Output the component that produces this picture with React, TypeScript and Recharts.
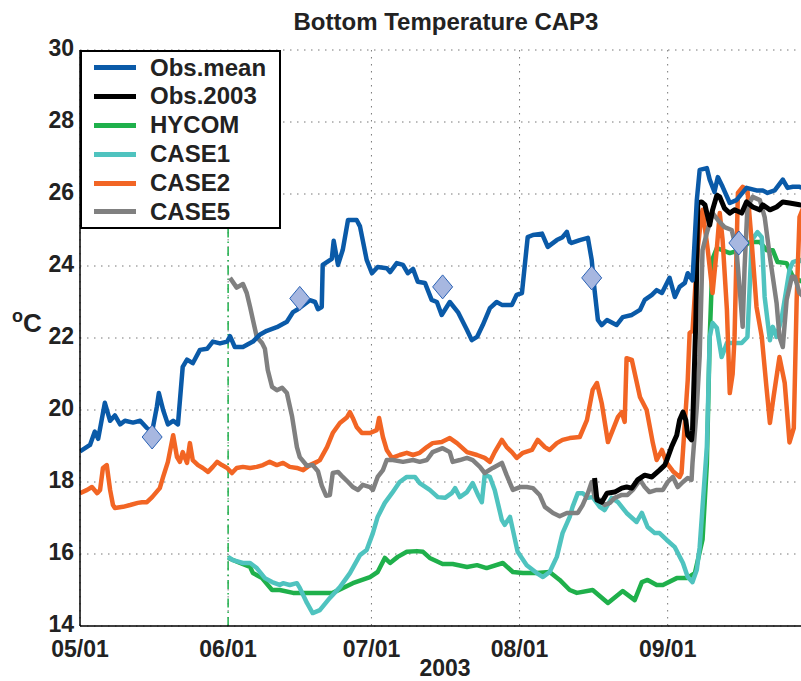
import React from 'react';
import { ComposedChart, Line, XAxis, YAxis, CartesianGrid, ReferenceLine, Legend } from 'recharts';

// x = days since 05/01/2003
const xTicks = [0, 31, 61, 92, 123];
const xTickLabels = ['05/01', '06/01', '07/01', '08/01', '09/01'];
const yTicks = [14, 16, 18, 20, 22, 24, 26, 28, 30];

const obsMean: [number, number][] = [
  [0, 18.85], [2.1, 19.03], [3.1, 19.4], [3.8, 19.2], [5.2, 20.2], [6.3, 19.7], [7.3, 19.85], [8.4, 19.6],
  [9.4, 19.7], [11.1, 19.65], [12.6, 19.7], [14.0, 19.5], [15.1, 19.4], [16.1, 20.1], [16.5, 20.47], [17.4, 20.0],
  [18.4, 19.6], [19.5, 19.7], [20.5, 19.6], [21.5, 21.2], [22.4, 21.4], [23.6, 21.3], [25.1, 21.67], [26.6, 21.7],
  [27.8, 21.9], [29.3, 21.85], [30.8, 21.9], [31.4, 22.05], [32.4, 21.75], [34.1, 21.75], [36.2, 21.9], [37.7, 22.1],
  [39.1, 22.2], [41.2, 22.3], [43.3, 22.45], [44.6, 22.72], [45.6, 22.8], [48.1, 23.05], [49.2, 23.0], [49.8, 22.8],
  [50.6, 22.86], [50.8, 24.03], [52.7, 24.2], [53.1, 24.7], [54.0, 24.03], [55.0, 24.45], [56.1, 25.28], [57.9, 25.28],
  [58.6, 25.1], [60.0, 24.17], [61.1, 23.8], [62.3, 23.97], [64.2, 23.94], [64.9, 23.83], [66.3, 24.08], [67.6, 24.03],
  [68.6, 23.8], [69.7, 23.92], [70.7, 23.56], [72.2, 23.53], [73.6, 23.06], [74.7, 23.0], [75.7, 22.64], [77.4, 23.0],
  [79.1, 22.72], [81.0, 22.22], [82.0, 21.94], [83.1, 22.03], [84.3, 22.36], [85.8, 22.83], [87.2, 23.0], [88.3, 22.92],
  [90.4, 22.92], [91.4, 23.2], [92.5, 23.25], [93.7, 24.8], [94.8, 24.86], [96.7, 24.9], [97.9, 24.53], [99.8, 24.72],
  [101.0, 24.8], [101.9, 24.95], [102.5, 24.67], [102.9, 24.64], [104.6, 24.72], [106.3, 24.78], [107.1, 24.17], [107.7, 23.33],
  [108.4, 22.5], [109.2, 22.36], [110.3, 22.5], [112.3, 22.36], [113.6, 22.58], [115.5, 22.64], [117.2, 22.78], [118.2, 23.06],
  [119.7, 23.2], [120.7, 23.33], [121.8, 23.25], [123.4, 23.67], [124.5, 23.14], [125.5, 23.42], [126.6, 23.53], [127.2, 23.8],
  [128.2, 23.6], [129.1, 25.83], [129.7, 26.67], [131.2, 26.72], [131.8, 26.4], [132.8, 26.06], [133.5, 26.47], [134.5, 26.2],
  [136.0, 25.75], [137.4, 25.83], [139.5, 26.17], [141.6, 26.1], [142.9, 26.1], [143.9, 26.03], [145.4, 26.1], [147.1, 26.4],
  [148.1, 26.17], [149.2, 26.2], [150.6, 26.2], [152.5, 26.1],
];

const obs2003: [number, number][] = [
  [107.7, 18.11], [108.2, 17.5], [109.2, 17.44], [110.3, 17.69], [111.9, 17.72], [113.4, 17.83], [114.4, 17.86], [115.5, 17.83],
  [116.7, 18.06], [118.2, 18.19], [119.7, 18.14], [121.3, 18.33], [122.4, 18.47], [122.8, 18.6], [123.8, 18.97], [124.9, 19.3],
  [125.5, 19.72], [126.2, 19.94], [126.8, 19.72], [127.2, 19.3], [128.0, 19.17], [128.2, 19.44], [128.9, 22.5], [129.3, 25.75],
  [130.1, 25.78], [130.8, 25.7], [131.8, 25.14], [132.4, 25.56], [133.3, 25.97], [133.9, 25.92], [134.9, 25.6], [136.0, 25.47],
  [137.0, 25.56], [138.5, 25.47], [139.5, 25.78], [140.8, 25.64], [142.3, 25.56], [142.9, 25.7], [144.4, 25.56], [145.8, 25.64],
  [147.1, 25.78], [148.5, 25.75], [150.6, 25.7], [152.5, 25.68],
];

const hycom: [number, number][] = [
  [31.0, 15.89], [33.5, 15.75], [35.6, 15.64], [36.2, 15.47], [38.1, 15.33], [40.2, 15.0], [41.8, 15.0], [44.6, 14.92],
  [48.7, 14.92], [52.9, 14.92], [57.1, 15.19], [60.7, 15.36], [62.3, 15.5], [63.8, 15.89], [64.9, 15.75], [66.5, 15.92],
  [68.4, 16.06], [70.5, 16.08], [71.8, 16.06], [73.2, 15.89], [75.9, 15.72], [78.0, 15.72], [81.0, 15.64], [83.1, 15.69],
  [85.1, 15.61], [88.5, 15.75], [90.6, 15.5], [92.7, 15.47], [95.6, 15.47], [98.3, 15.5], [100.4, 15.28], [102.5, 15.0],
  [104.0, 14.92], [107.3, 15.0], [110.5, 14.64], [113.6, 14.97], [116.1, 14.72], [117.6, 15.22], [118.8, 15.28], [120.7, 15.14],
  [122.0, 15.14], [124.9, 15.33], [127.0, 15.33], [128.7, 15.47], [130.3, 16.4], [131.2, 18.5], [131.8, 22.0], [132.4, 24.2],
  [133.3, 24.5], [136.0, 24.36], [138.1, 24.44], [140.2, 24.67], [142.3, 24.67], [143.7, 24.44], [145.0, 24.44], [146.0, 24.11],
  [147.9, 24.08], [149.2, 23.7], [150.6, 23.6], [152.5, 23.5],
];

const case1: [number, number][] = [
  [31.0, 15.92], [32.0, 15.83], [34.1, 15.75], [35.6, 15.75], [37.0, 15.61], [38.7, 15.33], [40.2, 15.22], [41.8, 15.14],
  [42.5, 15.19], [43.9, 15.14], [45.4, 15.19], [46.0, 15.06], [47.5, 14.64], [48.7, 14.36], [50.2, 14.44], [52.3, 14.78],
  [54.4, 15.08], [56.5, 15.47], [58.6, 15.97], [60.0, 16.11], [61.3, 16.58], [62.3, 17.03], [63.8, 17.42], [65.3, 17.69],
  [66.9, 18.0], [68.4, 18.14], [70.1, 18.14], [71.1, 17.97], [73.2, 17.78], [74.9, 17.58], [76.4, 17.56], [77.8, 17.69],
  [78.5, 17.83], [79.5, 17.58], [81.0, 17.72], [82.2, 17.97], [83.3, 17.64], [84.1, 17.44], [84.7, 18.19], [85.8, 18.14],
  [86.8, 17.78], [88.3, 16.94], [88.9, 16.81], [90.0, 17.03], [90.6, 16.67], [91.6, 16.06], [93.5, 15.69], [95.6, 15.47],
  [96.9, 15.36], [98.3, 15.5], [99.8, 15.92], [101.0, 16.58], [102.5, 17.03], [103.1, 17.31], [104.2, 17.69], [105.2, 17.69],
  [106.3, 17.56], [107.3, 17.58], [108.8, 17.31], [109.8, 17.22], [111.3, 17.56], [112.6, 17.44], [114.4, 17.14], [116.5, 16.89],
  [117.6, 17.14], [118.8, 16.75], [120.3, 16.58], [121.3, 16.58], [122.8, 16.39], [124.5, 16.19], [126.2, 15.75], [127.2, 15.36],
  [128.2, 15.22], [129.1, 15.56], [129.7, 16.19], [130.3, 17.31], [131.2, 18.97], [131.4, 19.92], [131.8, 22.03], [132.4, 22.42],
  [133.3, 22.28], [134.3, 21.47], [135.4, 21.86], [136.6, 21.86], [138.5, 21.86], [139.7, 22.03], [140.6, 24.72], [141.8, 24.94],
  [142.7, 24.8], [143.3, 23.14], [144.4, 21.94], [145.0, 22.31], [145.8, 22.03], [146.9, 22.58], [148.5, 23.89], [149.2, 24.11],
  [150.6, 24.17], [152.5, 24.0],
];

const case2: [number, number][] = [
  [0, 17.69], [1.5, 17.78], [2.5, 17.86], [3.6, 17.69], [4.2, 17.78], [4.8, 18.39], [5.6, 18.47], [6.3, 17.78],
  [6.9, 17.36], [7.3, 17.28], [9.0, 17.31], [10.5, 17.36], [12.1, 17.42], [13.0, 17.44], [14.0, 17.44], [15.1, 17.58],
  [16.7, 17.83], [17.4, 18.14], [18.4, 18.56], [19.5, 19.3], [20.3, 18.69], [20.9, 18.56], [21.5, 18.83], [22.4, 18.53],
  [23.0, 19.08], [23.6, 18.61], [24.7, 18.47], [25.7, 18.39], [26.8, 18.28], [27.8, 18.42], [28.7, 18.56], [29.7, 18.47],
  [30.8, 18.39], [31.8, 18.25], [32.8, 18.39], [34.1, 18.42], [35.6, 18.39], [37.0, 18.42], [38.3, 18.47], [39.7, 18.56],
  [41.2, 18.47], [42.5, 18.53], [43.9, 18.42], [45.4, 18.39], [46.7, 18.33], [48.1, 18.47], [49.6, 18.56], [50.2, 18.61],
  [51.7, 18.97], [52.9, 19.36], [54.4, 19.64], [55.9, 19.8], [56.5, 19.94], [57.1, 19.78], [57.9, 19.53], [59.0, 19.36],
  [60.7, 19.36], [62.1, 19.44], [62.6, 19.78], [63.4, 19.25], [64.2, 18.89], [65.3, 18.67], [66.9, 18.75], [68.4, 18.81],
  [69.7, 18.75], [71.1, 18.81], [72.6, 18.97], [73.8, 19.08], [75.7, 19.11], [77.4, 19.22], [78.9, 19.08], [81.0, 18.83],
  [83.1, 18.75], [84.7, 18.67], [85.8, 18.56], [86.8, 18.83], [88.3, 19.17], [89.3, 18.97], [90.4, 18.83], [91.4, 18.67],
  [92.7, 18.81], [94.6, 18.89], [95.8, 19.17], [97.3, 18.97], [98.3, 18.89], [99.8, 19.08], [101.0, 19.17], [102.5, 19.22],
  [104.6, 19.25], [106.1, 19.72], [107.3, 20.56], [108.2, 20.75], [109.2, 20.19], [110.5, 19.11], [111.5, 19.44], [112.6, 19.81],
  [113.4, 19.94], [114.0, 19.67], [114.4, 21.44], [115.5, 21.39], [117.2, 20.36], [118.6, 20.0], [119.9, 19.08], [120.7, 18.61],
  [121.8, 18.89], [122.8, 18.53], [124.1, 18.3], [125.5, 18.14], [125.9, 18.25], [126.6, 19.64], [127.2, 20.83], [127.6, 22.14],
  [128.2, 22.2], [129.3, 24.5], [130.1, 25.42], [130.3, 25.56], [131.4, 24.44], [132.4, 23.25], [133.3, 24.5], [133.9, 25.47],
  [134.5, 24.72], [135.4, 22.78], [136.0, 20.47], [136.6, 21.0], [137.0, 22.03], [137.7, 26.03], [138.7, 26.2], [139.7, 26.1],
  [140.6, 24.64], [141.6, 22.86], [142.7, 22.03], [143.7, 20.6], [144.4, 19.64], [145.2, 20.4], [146.4, 21.47], [147.5, 20.75],
  [148.5, 19.1], [149.4, 19.5], [150.0, 23.06], [150.6, 25.36], [152.5, 26.0],
];

const case5: [number, number][] = [
  [31.4, 23.67], [32.8, 23.4], [34.1, 23.5], [34.9, 23.25], [35.6, 22.86], [36.2, 22.5], [37.0, 22.03], [38.1, 21.86],
  [38.7, 21.7], [39.3, 21.11], [40.2, 20.64], [41.2, 20.55], [42.3, 20.62], [43.3, 20.47], [44.4, 19.81], [45.4, 18.97],
  [46.0, 18.69], [47.5, 18.45], [48.7, 18.47], [49.8, 18.3], [50.6, 17.9], [51.5, 17.62], [52.3, 17.64], [52.9, 18.25],
  [54.0, 18.28], [55.0, 18.14], [56.1, 18.0], [57.1, 17.86], [58.2, 17.78], [59.2, 17.92], [60.7, 17.86], [61.3, 17.78],
  [62.3, 18.14], [63.4, 18.33], [64.2, 18.61], [65.5, 18.61], [67.6, 18.56], [69.7, 18.61], [71.1, 18.56], [72.6, 18.61],
  [73.8, 18.83], [75.9, 18.94], [77.4, 18.83], [78.0, 18.56], [79.5, 18.61], [81.0, 18.67], [82.2, 18.61], [83.7, 18.42],
  [84.7, 18.25], [86.4, 18.39], [88.3, 18.53], [89.3, 18.19], [90.6, 17.78], [92.1, 17.86], [93.5, 17.86], [94.8, 17.83],
  [96.2, 17.64], [97.3, 17.31], [99.0, 17.14], [100.4, 17.05], [101.9, 17.14], [104.2, 17.14], [105.2, 17.36], [106.3, 17.69],
  [107.1, 18.0], [107.7, 17.58], [108.8, 17.5], [109.8, 17.36], [110.9, 17.42], [111.9, 17.56], [113.4, 17.64], [114.6, 17.64],
  [115.7, 17.78], [117.2, 18.06], [118.2, 17.86], [119.2, 17.72], [120.7, 17.78], [122.0, 17.78], [123.0, 18.0], [124.1, 18.14],
  [125.1, 17.86], [126.2, 18.0], [127.2, 18.11], [128.0, 18.06], [128.2, 18.53], [129.1, 20.08], [129.7, 21.5], [130.3, 24.44],
  [131.2, 24.92], [132.4, 25.47], [133.5, 25.28], [134.9, 25.08], [136.4, 25.0], [137.4, 24.44], [138.1, 23.33], [138.7, 22.31],
  [139.1, 23.97], [139.7, 25.64], [140.8, 25.92], [142.3, 25.83], [143.3, 25.36], [144.4, 24.25], [145.8, 22.97], [146.4, 22.03],
  [147.1, 21.75], [147.9, 23.06], [149.0, 23.7], [149.6, 23.7], [150.6, 23.25], [152.5, 23.0],
];

const monthlyMarkers: [number, number][] = [
  [15.1, 19.25], [46.0, 23.1], [75.9, 23.42], [107.1, 23.67], [137.9, 24.64],
];

const seriesNames = ['Obs.mean', 'Obs.2003', 'HYCOM', 'CASE1', 'CASE2', 'CASE5'];
const seriesColors = ['#0a5aa8', '#000000', '#1fb04b', '#4fc3bf', '#f26524', '#808080'];

const toRows = (pts: [number, number][]) => pts.map(([d, v]) => ({ day: d, value: v }));

const FONT = '"Liberation Sans", Arial, Helvetica, sans-serif';

const Diamond = (props: any) => {
  const { cx, cy } = props;
  if (cx == null || cy == null) return null;
  return (
    <path
      d={`M${cx},${cy - 12} L${cx + 10},${cy} L${cx},${cy + 12} L${cx - 10},${cy} Z`}
      fill="#a7b7e0"
      stroke="#2a62b5"
      strokeWidth={1}
    />
  );
};

const YTick = (props: any) => {
  const { x, y, payload } = props;
  return (
    <text x={x} y={y - 2} dy="0.355em" textAnchor="end" fontSize={23} fontWeight="bold" fill="#222" fontFamily={FONT}>
      {payload.value}
    </text>
  );
};

const LegendBox = () => (
  <div
    style={{
      boxSizing: 'border-box',
      width: 201,
      height: 179,
      border: '2px solid #000',
      background: '#fff',
      paddingTop: 1.6,
      fontFamily: FONT,
    }}
  >
    {seriesNames.map((n, i) => (
      <div key={n} style={{ display: 'flex', alignItems: 'center', height: 28.8 }}>
        <div style={{ marginLeft: 12, width: 42, height: 5, background: seriesColors[i] }} />
        <div style={{ marginLeft: 14, fontSize: 24, fontWeight: 'bold', color: '#222', lineHeight: '28.8px' }}>{n}</div>
      </div>
    ))}
  </div>
);

export default function App() {
  const lineSets = [obsMean, obs2003, hycom, case1, case2, case5];
  const drawOrder = [2, 3, 4, 5, 1, 0];
  return (
    <div style={{ position: 'absolute', left: 0, top: 0, width: 801, height: 681, overflow: 'hidden', background: '#fff' }}>
      <ComposedChart width={811} height={681} margin={{ top: 50, right: 0, bottom: 0, left: 0 }}>
        <CartesianGrid stroke="#777" strokeDasharray="1.5 5.5" strokeWidth={1} />
        <XAxis
          xAxisId={0}
          dataKey="day"
          type="number"
          domain={[0, 153]}
          ticks={xTicks}
          tickFormatter={(v: number) => xTickLabels[xTicks.indexOf(v)] ?? ''}
          allowDataOverflow
          height={55}
          tickSize={0}
          tickMargin={15}
          axisLine={{ stroke: '#000', strokeWidth: 1.5 }}
          tick={{ fontSize: 23, fontWeight: 'bold', fill: '#222', fontFamily: FONT }}
          interval={0}
        />
        <XAxis
          xAxisId="top"
          orientation="top"
          dataKey="day"
          type="number"
          domain={[0, 153]}
          height={0}
          tick={false}
          tickSize={0}
          axisLine={{ stroke: '#000', strokeWidth: 1.5 }}
        />
        <YAxis
          type="number"
          domain={[14, 30]}
          ticks={yTicks}
          width={80}
          tickSize={0}
          tickMargin={6}
          allowDataOverflow
          axisLine={{ stroke: '#000', strokeWidth: 1.5 }}
          tick={<YTick />}
          interval={0}
        />
        <ReferenceLine x={31} stroke="#1fb04b" strokeWidth={1.5} strokeDasharray="9 4 1.5 4" />
        {drawOrder.map((i) => (
          <Line
            key={seriesNames[i]}
            name={seriesNames[i]}
            data={toRows(lineSets[i])}
            dataKey="value"
            type="linear"
            stroke={seriesColors[i]}
            strokeWidth={i === 1 ? 5 : 4.5}
            strokeLinejoin="round"
            dot={false}
            activeDot={false}
            isAnimationActive={false}
          />
        ))}
        <Line
          name="markers"
          data={toRows(monthlyMarkers)}
          dataKey="value"
          stroke="none"
          strokeWidth={0}
          dot={<Diamond />}
          activeDot={false}
          legendType="none"
          isAnimationActive={false}
        />
        <Legend
          layout="vertical"
          align="center"
          verticalAlign="middle"
          wrapperStyle={{ left: 80, top: 50, width: 201, height: 179 }}
          content={() => <LegendBox />}
        />
      </ComposedChart>
      <svg
        width={801}
        height={681}
        style={{ position: 'absolute', left: 0, top: 0, pointerEvents: 'none' }}
        fontFamily={FONT}
        fontWeight="bold"
        fill="#222"
      >
        <text x={446} y={30} textAnchor="middle" fontSize={24}>Bottom Temperature CAP3</text>
        <text x={445} y={676} textAnchor="middle" fontSize={23}>2003</text>
        <text x={12} y={332} fontSize={26}>
          <tspan fontSize={18} dy={-10}>o</tspan>
          <tspan dy={10}>C</tspan>
        </text>
      </svg>
    </div>
  );
}
